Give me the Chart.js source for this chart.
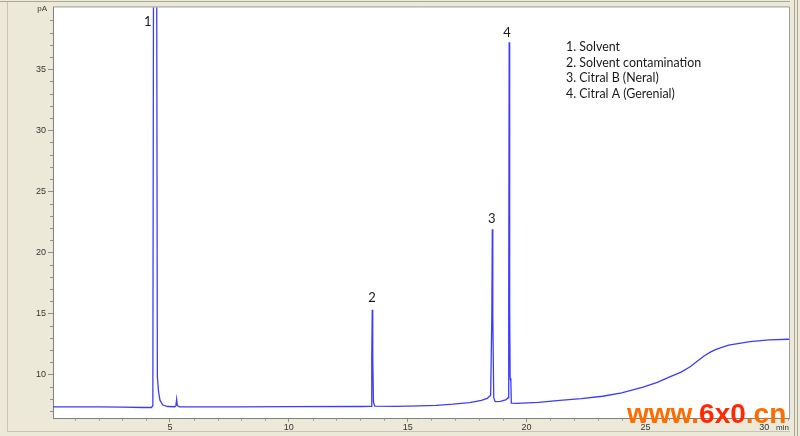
<!DOCTYPE html>
<html>
<head>
<meta charset="utf-8">
<script src="https://cdn.jsdelivr.net/npm/chart.js@4.4.1/dist/chart.umd.min.js"></script>
<style>
  html, body { margin: 0; padding: 0; background: #ece9d8; }
  #wrap { position: relative; width: 800px; height: 436px; }
</style>
</head>
<body>
<div id="wrap"><canvas id="chart" width="800" height="436"></canvas></div>
<script>
// retention time (min) and detector signal (pA)
const times = [
  0.0, 2.0, 3.0, 3.9, 4.22, 4.28, 4.31, 4.44, 4.47, 4.52, 4.58, 4.7, 4.9,
  5.2, 5.25, 5.28, 5.31, 5.4, 8.0, 10.0, 13.0,
  13.47, 13.49, 13.51, 13.53, 13.56, 13.62,
  14.5, 15.5, 16.2, 16.9, 17.6, 18.1, 18.35,
  18.49, 18.54, 18.56, 18.58, 18.62, 18.68, 18.9, 19.15,
  19.22, 19.25, 19.27, 19.29, 19.31, 19.34, 19.36,
  19.6, 20.5, 21.4, 22.3, 23.2, 24.0, 24.9, 25.5, 26.0, 26.5, 26.9,
  27.15, 27.45, 27.75, 28.0, 28.5, 29.4, 30.2, 31.04
];
const signal = [
  7.35, 7.35, 7.33, 7.3, 7.3, 7.45, 45, 45, 9.8, 8.6, 7.9, 7.5, 7.38,
  7.36, 7.45, 7.97, 7.45, 7.35, 7.35, 7.37, 7.38,
  7.4, 11.5, 15.3, 11.5, 7.7, 7.42,
  7.4, 7.43, 7.48, 7.57, 7.7, 7.88, 8.05,
  8.3, 14.8, 21.9, 14.8, 8.1, 7.78, 7.8, 7.95,
  8.1, 15.2, 37.2, 15.2, 9.7, 9.4, 7.65,
  7.63, 7.72, 7.89, 8.03, 8.22, 8.5, 8.97, 9.35, 9.78, 10.2, 10.65,
  11.05, 11.5, 11.85, 12.08, 12.4, 12.7, 12.83, 12.89
];

const xTicks = [5, 10, 15, 20, 25, 30];
const yTicks = [10, 15, 20, 25, 30, 35];

// peak numbers and where they sit (min, pA)
const peakNames = ['1', '2', '3', '4'];
const peakLabelX = [4.07, 13.5, 18.54, 19.18];
const peakLabelY = [38.9, 16.3, 22.75, 38.0];

const legendLines = [
  '1. Solvent',
  '2. Solvent contamination',
  '3. Citral B (Neral)',
  '4. Citral A (Gerenial)'
];

const points = times.map((t, i) => ({ x: t, y: signal[i] }));

// panel background, frame, minor ticks and text
const panelPlugin = {
  id: 'panel',
  beforeDraw(chart) {
    const { ctx, chartArea: a } = chart;
    ctx.save();
    ctx.fillStyle = '#ece9d8';
    ctx.fillRect(0, 0, chart.width, chart.height);
    ctx.fillStyle = '#ffffff';
    ctx.fillRect(a.left, a.top, a.right - a.left, a.bottom - a.top);
    // outer frame lines
    ctx.strokeStyle = '#c9c5b2';
    ctx.lineWidth = 1;
    ctx.beginPath();
    ctx.moveTo(7.5, 2); ctx.lineTo(7.5, 431.5); ctx.lineTo(790, 431.5);
    ctx.stroke();
    ctx.strokeStyle = '#aca899';
    ctx.beginPath();
    ctx.moveTo(0, 1.5); ctx.lineTo(790, 1.5);
    ctx.moveTo(794.5, 0); ctx.lineTo(794.5, 436);
    ctx.moveTo(797.5, 0); ctx.lineTo(797.5, 436);
    ctx.stroke();
    ctx.strokeStyle = '#a0a0a0';
    ctx.beginPath();
    ctx.moveTo(a.left, a.top - 0.5); ctx.lineTo(a.right + 0.5, a.top - 0.5);
    ctx.lineTo(a.right + 0.5, a.bottom);
    ctx.stroke();
    ctx.restore();
  },
  afterDraw(chart) {
    const { ctx, chartArea: a, scales } = chart;
    const xs = scales.x, ys = scales.y;
    ctx.save();
    ctx.strokeStyle = '#909090';
    ctx.lineWidth = 1;
    ctx.beginPath();
    for (let v = 1; v <= 31; v++) {
      if (v % 5 === 0) continue;
      const px = Math.round(xs.getPixelForValue(v)) + 0.5;
      ctx.moveTo(px, a.bottom); ctx.lineTo(px, a.bottom + 2.5);
    }
    for (let v = 7; v <= 39; v++) {
      if (v % 5 === 0) continue;
      const py = Math.round(ys.getPixelForValue(v)) + 0.5;
      ctx.moveTo(a.left - 3, py); ctx.lineTo(a.left, py);
    }
    ctx.stroke();

    // axis units
    ctx.fillStyle = '#333';
    ctx.font = '8px "Liberation Sans", Arial, sans-serif';
    ctx.textAlign = 'right';
    ctx.textBaseline = 'middle';
    ctx.fillText('pA', a.left - 6, 9);
    ctx.textAlign = 'left';
    ctx.fillText('min', 776, 428);

    // peak numbers
    ctx.fillStyle = '#1a1a1a';
    ctx.font = '13px Lato, "Noto Sans", sans-serif';
    ctx.textAlign = 'center';
    peakNames.forEach((n, i) => {
      ctx.fillText(n, xs.getPixelForValue(peakLabelX[i]), ys.getPixelForValue(peakLabelY[i]));
    });

    // legend block
    ctx.textAlign = 'left';
    ctx.font = '12.4px Lato, "Noto Sans", sans-serif';
    legendLines.forEach((s, i) => {
      ctx.fillText(s, 566, 47 + i * 15.7);
    });

    // site watermark
    ctx.font = 'bold 28px "Liberation Sans", Arial, sans-serif';
    ctx.textBaseline = 'alphabetic';
    let x = 627;
    const parts = [['www.', '#ff6c00'], ['6x0', '#ff2800'], ['.cn', '#ff6c00']];
    parts.forEach(([t, c]) => {
      ctx.fillStyle = c;
      ctx.fillText(t, x, 423);
      x += ctx.measureText(t).width;
    });
    ctx.restore();
  }
};

new Chart(document.getElementById('chart'), {
  type: 'line',
  data: {
    datasets: [{
      data: points,
      borderColor: '#3c3cff',
      borderWidth: 1.3,
      pointRadius: 0,
      tension: 0,
      fill: false
    }]
  },
  options: {
    responsive: false,
    animation: false,
    layout: { padding: { top: 3, right: 11, left: 0, bottom: 0 } },
    plugins: { legend: { display: false }, tooltip: { enabled: false } },
    scales: {
      x: {
        type: 'linear',
        min: 0.08,
        max: 31.04,
        afterBuildTicks: (s) => { s.ticks = xTicks.map(v => ({ value: v })); },
        afterFit: (s) => { s.height = 18; },
        grid: { drawOnChartArea: false, tickLength: 4, tickColor: '#909090' },
        border: { color: '#808080' },
        ticks: {
          autoSkip: false,
          maxRotation: 0,
          padding: 0,
          color: '#333',
          font: { family: '"Liberation Sans", Arial, sans-serif', size: 9 }
        }
      },
      y: {
        min: 6.44,
        max: 40.06,
        afterBuildTicks: (s) => { s.ticks = yTicks.map(v => ({ value: v })); },
        afterFit: (s) => { s.width = 53; },
        grid: { drawOnChartArea: false, tickLength: 5, tickColor: '#909090' },
        border: { color: '#808080' },
        ticks: {
          padding: 2,
          color: '#333',
          font: { family: '"Liberation Sans", Arial, sans-serif', size: 9 }
        }
      }
    }
  },
  plugins: [panelPlugin]
});
</script>
</body>
</html>
